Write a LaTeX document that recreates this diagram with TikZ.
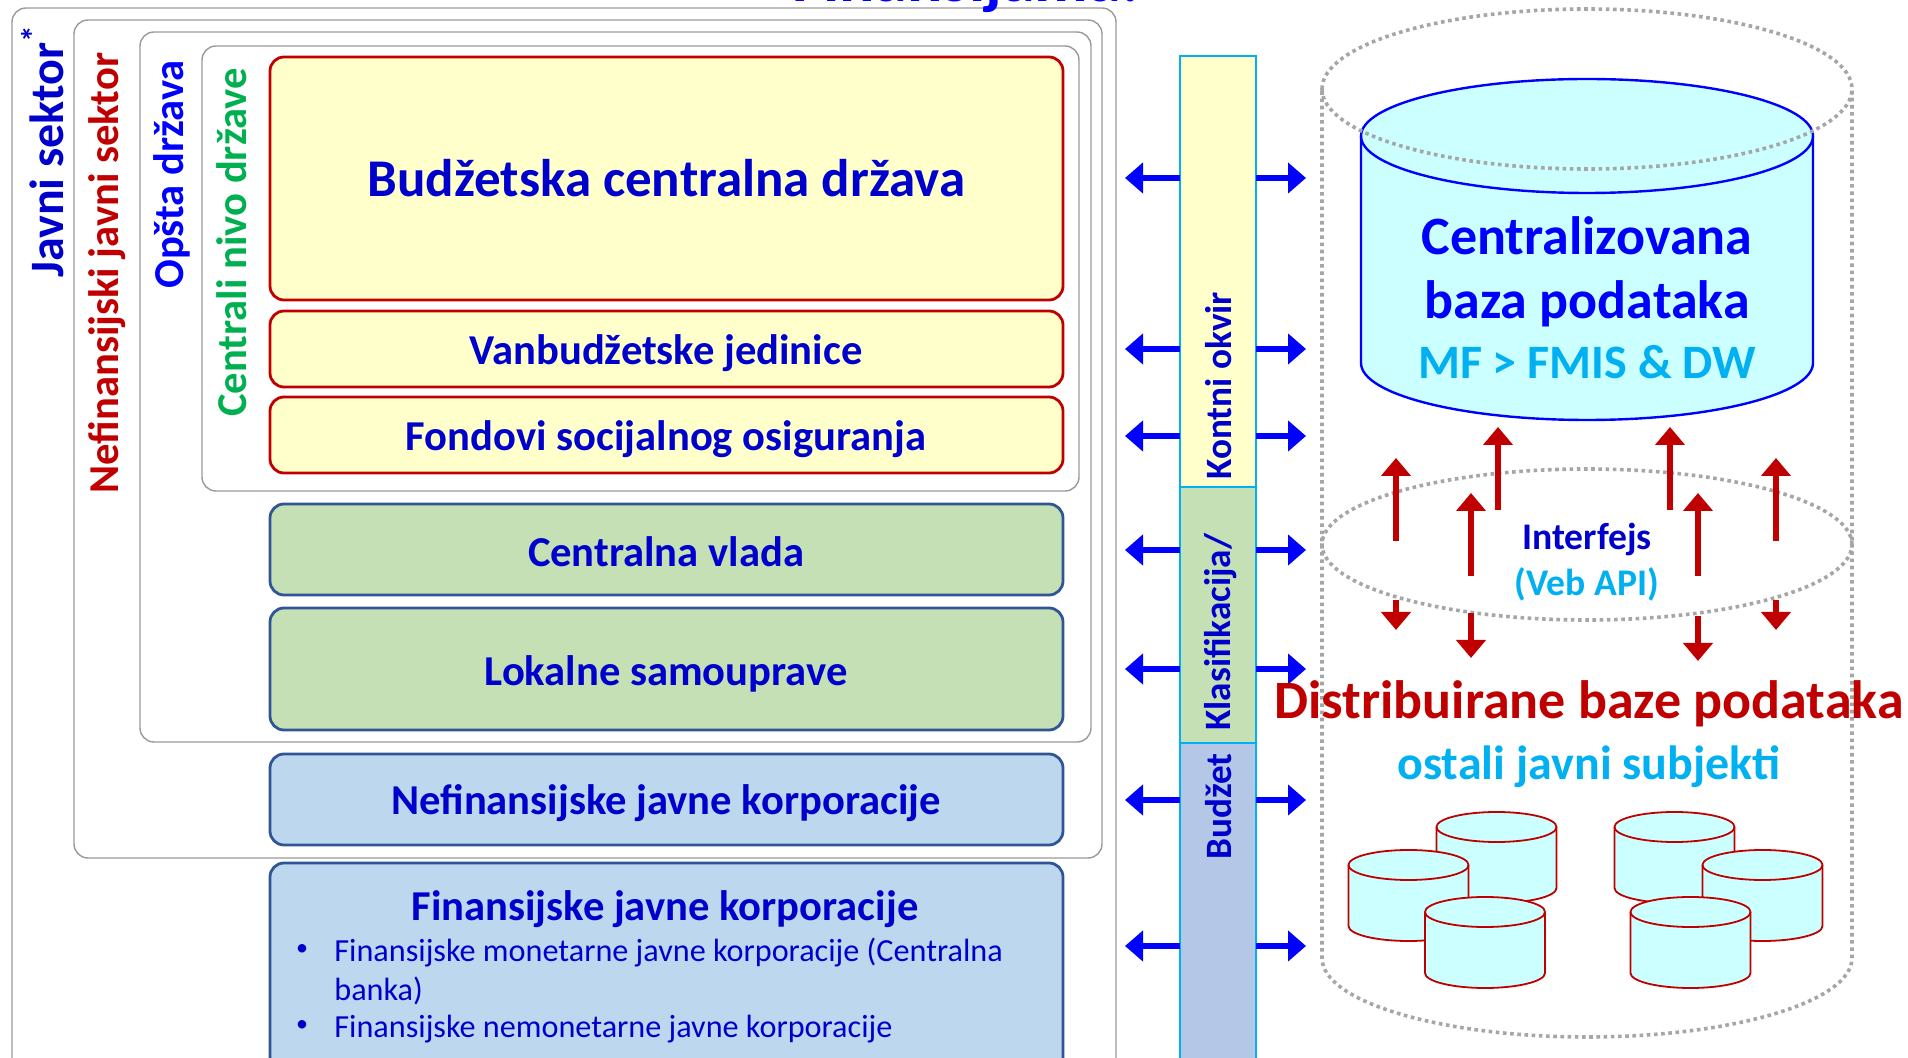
\documentclass[tikz,border=0pt]{standalone}
\usepackage{fontspec}
\setmainfont{Carlito}
\usepackage{tikz}
\usetikzlibrary{arrows.meta,shapes.geometric}
\definecolor{boxred}{HTML}{C00000}
\definecolor{boxyellow}{HTML}{FFFFCC}
\definecolor{boxgreen}{HTML}{C5E0B4}
\definecolor{boxblue}{HTML}{BDD7EE}
\definecolor{boxedge}{HTML}{2F5597}
\definecolor{barblue}{HTML}{B4C7E7}
\definecolor{barline}{HTML}{00B0F0}
\definecolor{dbfill}{HTML}{CCFFFF}
\definecolor{darkblue}{HTML}{0000CC}
\definecolor{purblue}{HTML}{0000FF}
\definecolor{sectgreen}{HTML}{00B050}
\definecolor{dotgray}{HTML}{A6A6A6}
\newcommand{\fs}[1]{\fontsize{#1}{#1}\selectfont\bfseries}
\tikzset{
  frame/.style={draw=gray!80,line width=.7pt,rounded corners=7pt,inner sep=0pt,outer sep=0pt,anchor=north west},
  sector/.style={rounded corners=7pt,line width=1.4pt,inner sep=0pt,outer sep=0pt,anchor=north west,align=center,text=darkblue},
  yellowbox/.style={sector,draw=boxred,fill=boxyellow},
  greenbox/.style={sector,draw=boxedge,fill=boxgreen},
  bluebox/.style={sector,draw=boxedge,fill=boxblue},
  barpart/.style={draw=barline,line width=1.1pt,inner sep=0pt,outer sep=0pt,anchor=north west},
  vlabel/.style={rotate=90,inner sep=0pt},
  boxlabel/.style={text=darkblue,font=\fs{21.3},inner sep=0pt},
  blueflow/.style={-{Triangle[length=9pt,width=15pt]},purblue,line width=3.2pt},
  redflow/.style={-{Triangle[length=9pt,width=14.5pt]},boxred,line width=2.8pt},
  smalldb/.style={draw=boxred,line width=.9pt,fill=dbfill},
  dotcyl/.style={draw=dotgray,line width=1.8pt,dash pattern=on 1.8pt off 1.8pt},
}
\begin{document}
\begin{tikzpicture}[x=.5pt,y=-.5pt]
\useasboundingbox (0,0) rectangle (1908,1058);
\begin{scope}
\clip (0,0) rectangle (1908,1058);

\node[frame,minimum width=552pt,minimum height=532pt] (javni) at (12,8) {};
\node[frame,minimum width=514pt,minimum height=419pt] (nefin) at (74,20) {};
\node[frame,minimum width=475.5pt,minimum height=355pt] (opsta) at (140,32) {};
\node[frame,minimum width=438.5pt,minimum height=222.5pt] (centrali) at (202,46) {};

\node[yellowbox,minimum width=396.5pt,minimum height=121.5pt,font=\fs{26.5}] (budzetska) at (270,57) {Budžetska centralna država};
\node[yellowbox,minimum width=396.5pt,minimum height=38pt] (vanbudzet) at (270,311) {};
\node[yellowbox,minimum width=396.5pt,minimum height=38pt] (fondovi) at (270,397) {};
\node[greenbox,minimum width=396.5pt,minimum height=45.5pt] (vlada) at (270,504) {};
\node[greenbox,minimum width=396.5pt,minimum height=61pt] (lokalne) at (270,608) {};
\node[bluebox,minimum width=396.5pt,minimum height=45.5pt] (nefkorp) at (270,754) {};
\node[bluebox,minimum width=396.5pt,minimum height=104pt] (finkorp) at (270,863) {};
\node[boxlabel] (lblVanbudzet) at (666,353.5) {Vanbudžetske jedinice};
\node[boxlabel] (lblFondovi) at (666,439.5) {Fondovi socijalnog osiguranja};
\node[boxlabel] (lblVlada) at (666,552) {Centralna vlada};
\node[boxlabel] (lblLokalne) at (666,673.5) {Lokalne samouprave};
\node[boxlabel] (lblNefkorp) at (666,803.5) {Nefinansijske javne korporacije};
\node[boxlabel] (finnaslov) at (665,909) {Finansijske javne korporacije};
\node[text=darkblue,anchor=west,inner sep=0pt,font=\fontsize{16.1}{16.1}\selectfont] (finmon) at (334,952.5) {Finansijske monetarne javne korporacije (Centralna};
\node[text=darkblue,anchor=west,inner sep=0pt,font=\fontsize{16.1}{16.1}\selectfont] (finbanka) at (334,990.5) {banka)};
\node[text=darkblue,anchor=west,inner sep=0pt,font=\fontsize{16.1}{16.1}\selectfont] (finnem) at (334,1029) {Finansijske nemonetarne javne korporacije};
\node[text=darkblue,inner sep=0pt,font=\fontsize{12}{12}\selectfont] (bulleta) at (302,950) {•};
\node[text=darkblue,inner sep=0pt,font=\fontsize{12}{12}\selectfont] (bulletb) at (302,1026) {•};

\node[vlabel,text=darkblue,font=\fs{24},anchor=west] (lblJavni) at (42.5,278) {Javni sektor\textsuperscript{*}};
\node[vlabel,text=boxred,font=\fs{21.3},anchor=west] (lblNefin) at (107.5,494) {Nefinansijski javni sektor};
\node[vlabel,text=purblue,font=\fs{21.3},anchor=west] (lblOpsta) at (171.5,289) {Opšta država};
\node[vlabel,text=sectgreen,font=\fs{21.3},anchor=west] (lblCentrali) at (232,417) {Centrali nivo države};

\node[barpart,fill=boxyellow,minimum width=38pt,minimum height=215.5pt] (kontni) at (1180,56) {};
\node[barpart,fill=boxgreen,minimum width=38pt,minimum height=128pt] (klasif) at (1180,487) {};
\node[barpart,fill=barblue,minimum width=38pt,minimum height=165pt] (budzet) at (1180,743) {};
\node[vlabel,text=darkblue,font=\fs{18.6},anchor=west] (lblKontni) at (1219,480) {Kontni okvir};
\node[vlabel,text=darkblue,font=\fs{18.6},anchor=west] (lblKlasif) at (1221,731) {Klasifikacija/};
\node[vlabel,text=darkblue,font=\fs{18.6},anchor=west] (lblBudzet) at (1219,860) {Budžet};

% arrows on both sides of the bar
\foreach \y/\n in {178/a,349/b,436/c,550/d,669/e,800/f,946/g} {
  \coordinate (left\n) at (1125,\y);
  \coordinate (right\n) at (1306,\y);
  \draw[blueflow] (kontni.west |- left\n) -- (left\n);
  \draw[blueflow] (kontni.east |- right\n) -- (right\n);
}

\draw[draw=purblue,line width=1.2pt,fill=dbfill] (1361,136) arc[start angle=180,end angle=360,x radius=226,y radius=57] -- (1813,363) arc[start angle=0,end angle=180,x radius=226,y radius=57] -- cycle;
\draw[draw=purblue,line width=1.2pt] (1361,136) arc[start angle=180,end angle=0,x radius=226,y radius=57];
\node[text=purblue,font=\fs{27},inner sep=0pt] (lblCentral) at (1587,236) {Centralizovana};
\node[text=purblue,font=\fs{27},inner sep=0pt] (lblBaza) at (1587,304) {baza podataka};
\node[text=barline,font=\fs{24},inner sep=0pt] (lblMf) at (1587,362) {MF > FMIS \& DW};

\draw[dotcyl] (1322,89) arc[start angle=180,end angle=360,x radius=265,y radius=80] -- (1852,958) arc[start angle=0,end angle=180,x radius=265,y radius=79] -- cycle;
\draw[dotcyl] (1322,89) arc[start angle=180,end angle=0,x radius=265,y radius=80];
\node[ellipse,dotcyl,minimum width=265pt,minimum height=75.5pt,inner sep=0pt] (interfejs) at (1587,544.5) {};

\node[text=darkblue,font=\fs{18.8},inner sep=0pt] (lblInterfejs) at (1587,539.5) {Interfejs};
\node[text=barline,font=\fs{18.8},inner sep=0pt] (lblVeb) at (1587,584.5) {(Veb API)};

% up and down arrows around the interface
\foreach \x/\a/\b/\n in {1396/541/458/a,1471/576/493/b,1498/510/427/c,1670/510/427/d,1698/576/493/e,1776/541/458/f} {
  \coordinate (ups\n) at (\x,\a);
  \coordinate (upe\n) at (\x,\b);
  \draw[redflow] (ups\n) -- (upe\n);
}
\foreach \x/\a/\b/\n in {1396/600/630/a,1471/613/658/b,1698/616/661/c,1776/600/630/d} {
  \coordinate (dns\n) at (\x,\a);
  \coordinate (dne\n) at (\x,\b);
  \draw[redflow] (dns\n) -- (dne\n);
}

\node[text=boxred,font=\fs{27},inner sep=0pt] (lblDistrib) at (1589,704) {Distribuirane baze podataka};
\node[text=barline,font=\fs{24},inner sep=0pt] (lblOstali) at (1589,767) {ostali javni subjekti};

% small data bases, back to front
\foreach \x/\y in {1496.5/827,1408.5/865,1485/912,1674.5/827,1762.5/865,1690.5/912} {
  \draw[smalldb] (\x-60,\y) arc[start angle=180,end angle=360,x radius=60,y radius=15] -- (\x+60,\y+61) arc[start angle=0,end angle=180,x radius=60,y radius=15] -- cycle;
  \draw[smalldb] (\x-60,\y) arc[start angle=180,end angle=0,x radius=60,y radius=15];
}

\node[text=purblue,font=\fs{33},anchor=base,inner sep=0pt] (titel) at (966,2) {Finansijama:};
\end{scope}
\end{tikzpicture}
\end{document}
